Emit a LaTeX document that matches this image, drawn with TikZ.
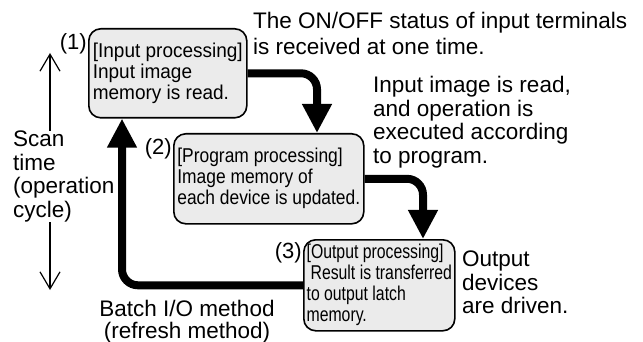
\documentclass[tikz,border=0pt]{standalone}
\usepackage{fontspec}
\setmainfont{Liberation Sans}
\newfontfamily\narrowA[FakeStretch=0.95]{Liberation Sans}
\newfontfamily\narrowB[FakeStretch=0.87]{Liberation Sans}
\newfontfamily\narrowC[FakeStretch=0.79]{Liberation Sans}
\usetikzlibrary{arrows.meta,positioning,calc}
\tikzset{
  pbox/.style={draw, rounded corners=12pt, line width=1.6pt, fill=black!8, anchor=north west, inner sep=0pt, align=left},
  num/.style={anchor=east, inner sep=1pt, font=\fontsize{22}{24}\selectfont},
  note/.style={anchor=north west, inner sep=0pt, align=left, font=\fontsize{22.5}{23.5}\selectfont},
  flow/.style={line width=8pt, rounded corners=16pt, -{Triangle[length=29pt,width=28pt]}},
  scanarrow/.style={line width=1.2pt, -{Straight Barb[length=17pt,width=20pt]}}
}
\begin{document}
\begin{tikzpicture}[x=1pt,y=-1pt]
\useasboundingbox (0,0) rectangle (643,342);
% processing boxes
\node[pbox, minimum width=158pt, minimum height=89pt, font=\narrowA\fontsize{20}{21}\selectfont] (inproc) at (88,28)
  {[Input processing]\\Input image\\memory is read.};
\node[pbox, minimum width=190pt, minimum height=90pt, font=\narrowB\fontsize{20}{21}\selectfont] (prog) at (173,133)
  {[Program processing]\\Image memory of\\each device is updated.};
\node[pbox, minimum width=151pt, minimum height=91pt, font=\narrowC\fontsize{20}{21}\selectfont] (outproc) at (303,239)
  {[Output processing]\\\hspace*{4pt}Result is transferred\\to output latch\\memory.};
\node[num] at ([yshift=-16pt]inproc.north west) {(1)};
\node[num] at ([yshift=-16pt]prog.north west) {(2)};
\node[num] at ([yshift=-14pt]outproc.north west) {(3)};
% flow
\draw[flow] (inproc.east) -| ($(prog.north west)+(144,0)$);
\draw[flow] (prog.east) -| ($(outproc.north west)+(120,0)$);
\draw[flow] (outproc.west) -| ($(inproc.south west)+(34,0)$);
% notes
\node[note, font=\fontsize{22.5}{26}\selectfont] (status) at (253,12)
  {The ON/OFF status of input terminals\\is received at one time.};
\node[note] (exec) at (373,76)
  {Input image is read,\\and operation is\\executed according\\to program.};
\node[note] (driven) at (462,251) {Output\\devices\\are driven.};
\node[note, anchor=north, align=center, font=\fontsize{22.5}{22}\selectfont] (batch) at (187,300)
  {Batch I/O method\\(refresh method)};
\node[note] (scan) at (13,131) {Scan\\time\\(operation\\cycle)};
% scan time arrows
\coordinate (scantop) at (50,53);
\coordinate (scanbot) at (50,290);
\draw[scanarrow] (scantop |- scan.north) -- (scantop);
\draw[scanarrow] (scanbot |- scan.south) -- (scanbot);
\end{tikzpicture}
\end{document}
